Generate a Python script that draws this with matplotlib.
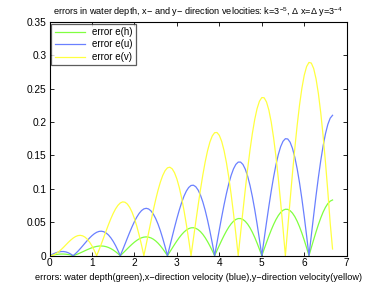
import numpy as np
import matplotlib
matplotlib.use("Agg")
import matplotlib.pyplot as plt

# sample positions (x = i/18, i = 0..120)
x = [round(i / 18, 4) for i in range(121)]

err_h = [0, .00069, .00132, .00186, .00225, .00246, .00245, .00221, .00172, .00098, 0, .00119, .00258, .00410, .00571, .00737, .00899, .01052, .01189, .01303,
         .01389, .01441, .01453, .01423, .01349, .01228, .01061, .00851, .00601, .00315, 0, .00337, .00687, .01040, .01388, .01719, .02023, .02289, .02510, .02675,
         .02778, .02812, .02774, .02661, .02472, .02210, .01878, .01482, .01030, .00532, 0, .00554, .01116, .01671, .02204, .02701, .03146, .03527, .03831, .04047,
         .04167, .04184, .04095, .03898, .03596, .03192, .02694, .02112, .01459, .00750, 0, .00771, .01545, .02302, .03021, .03683, .04270, .04764, .05152, .05419,
         .05556, .05556, .05416, .05136, .04719, .04174, .03510, .02743, .01889, .00967, 0, .00988, .01974, .02932, .03837, .04665, .05393, .06002, .06473, .06791,
         .06944, .06928, .06737, .06373, .05843, .05156, .04327, .03373, .02317, .01184, 0, .01206, .02403, .03563, .04654, .05647, .06517, .07239, .07794, .08162,
         .08333]

err_u = [0, .00173, .00333, .00468, .00566, .00619, .00617, .00556, .00433, .00246, 0, .00301, .00649, .01033, .01440, .01856, .02265, .02651, .02996, .03284,
         .035, .03630, .03662, .03586, .03398, .03094, .02674, .02145, .01514, .00794, 0, .00848, .01730, .02622, .03497, .04331, .05097, .05769, .06325, .06741,
         .070, .07087, .06991, .06705, .06229, .05568, .04732, .03734, .02596, .01341, 0, .01396, .02812, .04211, .05555, .06806, .07928, .08888, .09654, .10198,
         .105, .10544, .10319, .09823, .09061, .08043, .06789, .05323, .03677, .01889, 0, .01943, .03893, .05800, .07612, .09281, .10760, .12006, .12983, .13655,
         .140, .14001, .13648, .12942, .11892, .10518, .08846, .06912, .04759, .02436, 0, .02491, .04975, .07389, .09669, .11756, .13591, .15125, .16311, .17112,
         .175, .17458, .16977, .16060, .14724, .12993, .10904, .08501, .05840, .02983, 0, .03038, .06056, .08978, .11727, .14230, .16423, .18243, .19640, .20569,
         .210]

err_v = [0, .00041, .00162, .00358, .00618, .00929, .01276, .01639, .01999, .02336, .02628, .02855, .02999, .03044, .02976, .02787, .02471, .02028, .01462, .00781,
         0, .00863, .01786, .02744, .03707, .04645, .05527, .06322, .06998, .07527, .07883, .08046, .07998, .07727, .07228, .06503, .05561, .04414, .03086, .01603,
         0, .01685, .03410, .05130, .06796, .08362, .09779, .11005, .11997, .12718, .13139, .13237, .12996, .12409, .11480, .10220, .08650, .06800, .04710, .02425,
         0, .02507, .05034, .07516, .09885, .12078, .14031, .15687, .16995, .17909, .18394, .18428, .17995, .17092, .15731, .13936, .11739, .09186, .06334, .03247,
         0, .03329, .06658, .09902, .12975, .15794, .18283, .20370, .21994, .23099, .2365, .23619, .22993, .21775, .19983, .17652, .14828, .11572, .07957, .04069,
         0, .04151, .08282, .12288, .16064, .19510, .22534, .25052, .26992, .28291, .28906, .28810, .27992, .26457, .24235, .21369, .17917, .13958, .09581, .04891,
         0.010]

labels = ["error e(h)", "error e(u)", "error e(v)"]
colors = ["#80ff40", "#6a80ff", "#ffff40"]
xticks = [0, 1, 2, 3, 4, 5, 6, 7]
yticks = [0, 0.05, 0.1, 0.15, 0.2, 0.25, 0.3, 0.35]
ytick_labels = ["0", "0.05", "0.1", "0.15", "0.2", "0.25", "0.3", "0.35"]

title = "errors in water depth, x\u2212 and y\u2212 direction velocities: k=3$^{-5}$, \u0394 x=\u0394 y=3$^{-4}$"
xlabel = "errors: water depth(green),x\u2212direction velocity (blue),y\u2212direction velocity(yellow)"

plt.rcParams['font.family'] = ['Liberation Sans', 'DejaVu Sans']
plt.rcParams['mathtext.fontset'] = 'custom'
plt.rcParams['mathtext.rm'] = 'Liberation Sans'
plt.rcParams['mathtext.it'] = 'Liberation Sans'
plt.rcParams['mathtext.default'] = 'regular'

fig = plt.figure(figsize=(3.82, 2.87), dpi=100)
ax = fig.add_axes([0.1296, 0.1091, 0.778, 0.8153])

for series, lab, col in zip([err_h, err_u, err_v], labels, colors):
    ax.plot(x, series, color=col, lw=0.9, label=lab)

ax.set_xlim(0, 7)
ax.set_ylim(0, 0.35)
ax.set_xticks(xticks)
ax.set_xticklabels([str(t) for t in xticks])
ax.set_yticks(yticks)
ax.set_yticklabels(ytick_labels)
ax.tick_params(direction='in', top=True, right=True, length=3, width=0.6,
               labelsize=7.3, pad=2)
for sp in ax.spines.values():
    sp.set_linewidth(0.8)

ax.set_title(title, fontsize=6.6, pad=5)
ax.set_xlabel(xlabel, fontsize=6.6, labelpad=3)

leg = ax.legend(loc='upper left', fontsize=7, frameon=True, fancybox=False,
                edgecolor='#333333', borderpad=0.35, handlelength=3.1,
                handletextpad=0.7, labelspacing=0.25, borderaxespad=0.2)
leg.get_frame().set_linewidth(0.9)

fig.savefig("out.png", dpi=100)
